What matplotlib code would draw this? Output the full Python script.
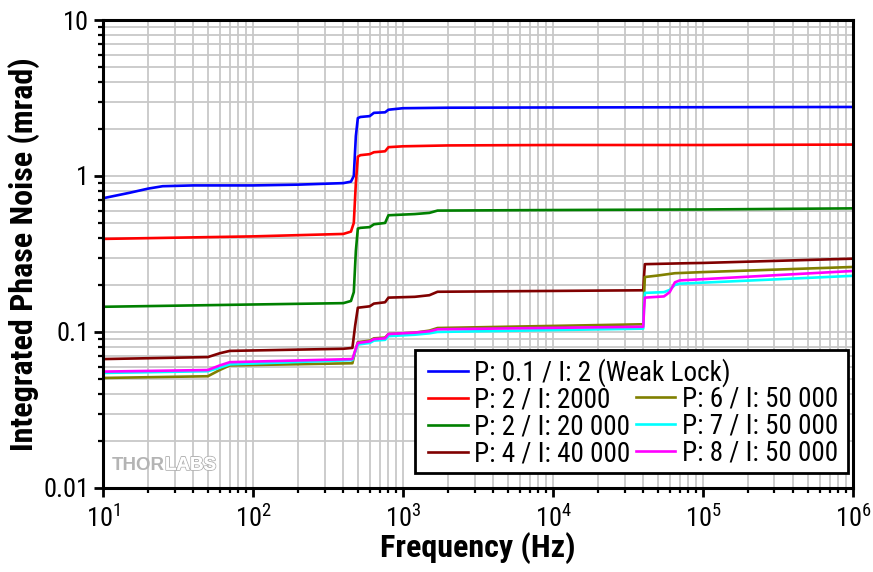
"""Integrated phase noise vs frequency for several PI settings."""
import numpy as np
import matplotlib
matplotlib.use("Agg")
import matplotlib.pyplot as plt
import matplotlib.patheffects as pe
from matplotlib.lines import Line2D
from matplotlib.patches import Rectangle

FONT = ['Roboto Condensed', 'Fira Sans Condensed', 'DejaVu Sans']
plt.rcParams['font.family'] = FONT
plt.rcParams['mathtext.fontset'] = 'custom'
plt.rcParams['mathtext.rm'] = FONT[0]
plt.rcParams['mathtext.it'] = FONT[0]

# --- data ---
labels = ["P: 0.1 / I: 2 (Weak Lock)", "P: 2 / I: 2000", "P: 2 / I: 20 000",
          "P: 4 / I: 40 000", "P: 6 / I: 50 000", "P: 7 / I: 50 000",
          "P: 8 / I: 50 000"]
colors = ["#0000ff", "#ff0000", "#008000", "#800000", "#808000", "#00ffff", "#ff00ff"]

f_blue = [10, 15, 20, 25, 40, 100, 200, 400, 450, 470, 485, 500, 520, 600, 640, 760, 800, 1000, 2000, 1e4, 1e5, 1e6]
v_blue = [0.72, 0.78, 0.83, 0.86, 0.87, 0.87, 0.88, 0.90, 0.92, 1.0, 1.8, 2.35, 2.39, 2.42, 2.54, 2.56, 2.66, 2.72, 2.74, 2.75, 2.76, 2.77]

f_red = [10, 100, 400, 450, 470, 485, 500, 520, 600, 640, 760, 800, 1000, 2000, 1e4, 1e5, 1e6]
v_red = [0.395, 0.41, 0.425, 0.44, 0.5, 0.9, 1.33, 1.36, 1.38, 1.42, 1.44, 1.53, 1.55, 1.57, 1.58, 1.58, 1.59]

f_green = [10, 100, 400, 450, 470, 485, 500, 520, 600, 640, 760, 800, 1200, 1500, 1700, 1e4, 1e5, 1e6]
v_green = [0.145, 0.15, 0.153, 0.158, 0.18, 0.33, 0.46, 0.465, 0.47, 0.49, 0.5, 0.56, 0.57, 0.58, 0.6, 0.605, 0.61, 0.62]

f_dred = [10, 50, 60, 70, 400, 460, 480, 500, 600, 640, 760, 800, 1200, 1500, 1700, 4e4, 4.05e4, 4.1e4, 8e4, 1e5, 1e6]
v_dred = [0.067, 0.069, 0.073, 0.0756, 0.078, 0.079, 0.11, 0.143, 0.146, 0.152, 0.155, 0.166, 0.168, 0.172, 0.181, 0.185, 0.23, 0.272, 0.276, 0.277, 0.295]

f_olive = [10, 50, 60, 70, 460, 480, 500, 600, 640, 760, 800, 1200, 1500, 1700, 4e4, 4.05e4, 4.1e4, 5e4, 6.5e4, 1e5, 1e6]
v_olive = [0.0507, 0.052, 0.057, 0.061, 0.063, 0.075, 0.086, 0.088, 0.091, 0.092, 0.097, 0.099, 0.102, 0.106, 0.112, 0.17, 0.225, 0.23, 0.238, 0.242, 0.261]

f_cyan = [10, 50, 60, 70, 460, 480, 500, 600, 640, 760, 800, 1200, 1500, 1700, 4e4, 4.05e4, 4.1e4, 5.5e4, 6e4, 6.5e4, 7e4, 1e5, 1e6]
v_cyan = [0.0546, 0.056, 0.059, 0.062, 0.066, 0.075, 0.083, 0.085, 0.088, 0.089, 0.094, 0.096, 0.098, 0.1, 0.105, 0.15, 0.178, 0.18, 0.186, 0.2, 0.204, 0.207, 0.229]

f_mag = [10, 50, 60, 70, 460, 480, 500, 600, 640, 760, 800, 1200, 1500, 1700, 4e4, 4.05e4, 4.1e4, 5.5e4, 6e4, 6.5e4, 7e4, 1e5, 1e6]
v_mag = [0.0557, 0.057, 0.061, 0.064, 0.067, 0.076, 0.085, 0.087, 0.09, 0.091, 0.097, 0.099, 0.101, 0.104, 0.108, 0.14, 0.166, 0.169, 0.18, 0.208, 0.214, 0.218, 0.246]

series = [(f_blue, v_blue), (f_red, v_red), (f_green, v_green), (f_dred, v_dred),
          (f_olive, v_olive), (f_cyan, v_cyan), (f_mag, v_mag)]

y_tick_text = {10: "10", 1: "1", 0.1: "0.1", 0.01: "0.01"}


def make_legend(ax, handles, names, x, y):
    """One frameless legend column, anchored by its upper-left corner."""
    leg = ax.legend(handles=handles, labels=names, loc='upper left',
                    bbox_to_anchor=(x, y), frameon=False, fontsize=19.5,
                    handlelength=1.45, handletextpad=0.25, labelspacing=0.0,
                    borderpad=0.3, borderaxespad=0.0)
    leg.set_zorder(6)
    return leg


def main():
    """Main func."""
    fig = plt.figure(figsize=(8.73, 5.72), dpi=100)
    ax = fig.add_axes([0.118, 0.147, 0.859, 0.818])

    lines = []
    for (f, v), c, lab in zip(series, colors, labels):
        ln, = ax.plot(f, v, color=c, lw=1.9, label=lab, zorder=3)
        lines.append(ln)

    ax.set_xscale('log')
    ax.set_yscale('log')
    ax.set_xlim(10, 1e6)
    ax.set_ylim(0.01, 10)

    ax.grid(True, which='both', color='#c8c8c8', lw=1.3, zorder=0)
    for s in ax.spines.values():
        s.set_linewidth(2.2)
        s.set_color('black')
        s.set_zorder(7)

    ax.yaxis.set_major_formatter(matplotlib.ticker.FuncFormatter(
        lambda y, p: y_tick_text.get(round(y, 3), "")))
    ax.xaxis.set_major_formatter(matplotlib.ticker.FuncFormatter(
        lambda x, p: r"$10^{%d}$" % round(np.log10(x))))
    ax.tick_params(which='major', direction='out', length=6.5, width=2, labelsize=19)
    ax.tick_params(which='minor', direction='out', length=3.8, width=1.6)
    ax.tick_params(axis='x', pad=6)

    ax.set_xlabel("Frequency (Hz)", fontsize=23, fontweight='bold', labelpad=0)
    ax.set_ylabel("Integrated Phase Noise (mrad)", fontsize=23, fontweight='bold', labelpad=2)

    # legend: box drawn by hand, two frameless columns inside it
    ax.add_patch(Rectangle((0.416, 0.032), 0.577, 0.263, transform=ax.transAxes,
                           fc='white', ec='black', lw=2, zorder=5))
    leg1 = make_legend(ax, lines[:4], labels[:4], 0.423, 0.295)
    ax.add_artist(leg1)
    blank = Line2D([], [], color='none')
    make_legend(ax, [blank] + lines[4:], [' '] + labels[4:], 0.700, 0.295)

    # watermark
    wm_font = ['Liberation Sans', 'DejaVu Sans']
    t = ax.text(0.012, 0.03, "THOR", transform=ax.transAxes, fontsize=13.5,
                family=wm_font, fontweight='bold', va='bottom',
                color='#b4b4b4', zorder=4)
    ax.annotate("LABS", xy=(1, 0), xycoords=t, xytext=(0, 0), textcoords='offset points',
                fontsize=13.5, family=wm_font, fontweight='bold', va='bottom',
                color='white', zorder=4,
                path_effects=[pe.withStroke(linewidth=1.4, foreground='#b4b4b4'), pe.Normal()])

    fig.savefig("out.png", dpi=100)


if __name__ == "__main__":
    main()
